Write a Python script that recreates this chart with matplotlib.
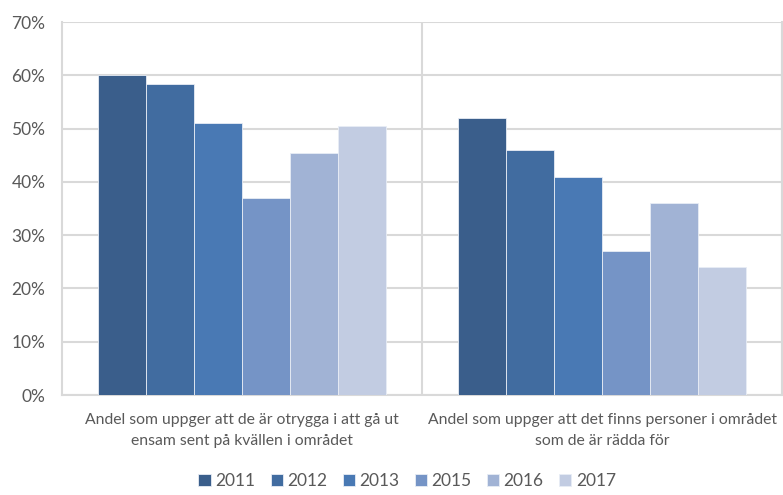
import numpy as np
import matplotlib.pyplot as plt
from matplotlib.ticker import FuncFormatter

categories = [
    "Andel som uppger att de är otrygga i att gå ut\nensam sent på kvällen i området",
    "Andel som uppger att det finns personer i området\nsom de är rädda för",
]
years = ["2011", "2012", "2013", "2015", "2016", "2017"]
values_2011 = [60.0, 52.0]
values_2012 = [58.3, 46.0]
values_2013 = [51.0, 41.0]
values_2015 = [37.0, 27.0]
values_2016 = [45.5, 36.0]
values_2017 = [50.4, 24.0]
series = [values_2011, values_2012, values_2013, values_2015, values_2016, values_2017]
colors = ["#3a5e8b", "#416ca0", "#4979b4", "#7594c6", "#a1b3d5", "#c2cce2"]

plt.rcParams['font.family'] = ['Lato', 'DejaVu Sans']
text_color = "#595959"
grid_color = "#d9d9d9"

fig = plt.figure(figsize=(7.83, 4.95), dpi=100)
ax = fig.add_axes([62 / 783, 100 / 495, 720 / 783, 373 / 495])

x = np.arange(len(categories))
w = 0.8 / len(years)
for i, (yr, vals) in enumerate(zip(years, series)):
    offs = (i - (len(years) - 1) / 2) * w
    ax.bar(x + offs, vals, width=w, color=colors[i], edgecolor="#e8edf5",
           linewidth=0.6, label=yr, zorder=3)

ax.set_ylim(0, 70)
ax.set_xlim(-0.5, len(categories) - 0.5)
ax.set_yticks(np.arange(0, 71, 10))
ax.yaxis.set_major_formatter(FuncFormatter(lambda v, p: f"{v:.0f}%"))
ax.set_xticks(x)
ax.set_xticklabels(categories, fontsize=11.3, color=text_color, linespacing=1.6)
ax.tick_params(axis='y', labelsize=12.5, colors=text_color, length=0, pad=12)
ax.tick_params(axis='x', length=0, pad=13)

ax.grid(axis='y', color=grid_color, linewidth=1.5, zorder=0)
for xb in np.arange(0.5, len(categories), 1.0):
    ax.axvline(xb, color=grid_color, linewidth=1.5, zorder=0)

ax.spines["top"].set_visible(False)
for s in ["left", "bottom", "right"]:
    ax.spines[s].set_color(grid_color)
    ax.spines[s].set_linewidth(1.5)

leg = fig.legend(loc="lower center", bbox_to_anchor=(0.52, -0.02), ncol=6,
                 frameon=False, fontsize=12.5, handlelength=0.7, handleheight=0.7,
                 handletextpad=0.25, columnspacing=0.9)
for t in leg.get_texts():
    t.set_color(text_color)

fig.savefig("out.png", dpi=100)
